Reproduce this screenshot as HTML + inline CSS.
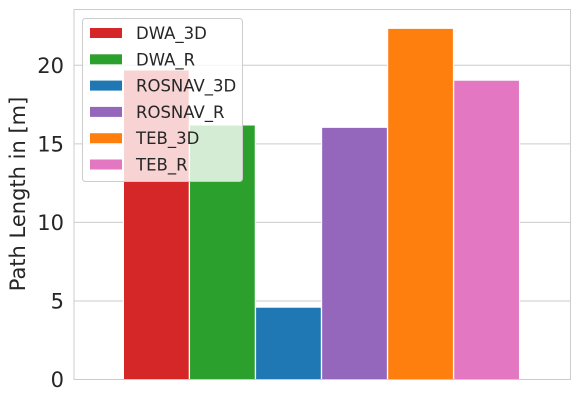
<!DOCTYPE html>
<html><head><meta charset="utf-8"><style>
body{margin:0;background:#fff;}
svg{display:block;font-family:"DejaVu Sans","Liberation Sans",sans-serif;}
</style></head><body>
<svg id="chart" width="579" height="401">
<g id="grid"></g>
<g id="bars"></g>
<rect x="74" y="9.5" width="496.5" height="370" fill="none" stroke="#cccccc" stroke-width="1"/>
<g id="ticks"></g>
<text transform="translate(25,194) rotate(-90)" text-anchor="middle" font-size="21" fill="#262626">Path Length in [m]</text>
<g id="legend"></g>
</svg>
<script>
const categories = ["DWA_3D","DWA_R","ROSNAV_3D","ROSNAV_R","TEB_3D","TEB_R"];
const values = [19.7, 16.2, 4.6, 16.05, 22.35, 19.05];
const colors = ["#d62728","#2ca02c","#1f77b4","#9467bd","#ff7f0e","#e377c2"];
const yTicks = [0,5,10,15,20];
const NS="http://www.w3.org/2000/svg";
const y0=379.5, pxPerUnit=15.71;
function yScale(v){return y0-v*pxPerUnit;}
const barW=65.7, step=66.05, barStart=123.5;
function xScale(i){return barStart+i*step;}
function mk(tag,attrs,parent){const e=document.createElementNS(NS,tag);for(const k in attrs)e.setAttribute(k,attrs[k]);parent.appendChild(e);return e;}
const grid=document.getElementById('grid'), bars=document.getElementById('bars'), ticks=document.getElementById('ticks'), legend=document.getElementById('legend');
yTicks.forEach(t=>{
  const y=yScale(t);
  const l=mk('line',{x1:74,x2:570.5,y1:y,y2:y,stroke:'#cccccc','stroke-width':1},grid);
  
  
  const tx=mk('text',{x:64,y:y+7.5,'text-anchor':'end','font-size':21,fill:'#262626'},ticks);
  tx.textContent=t;
  
  
});
values.forEach((v,i)=>{
  const r=mk('rect',{x:xScale(i),y:yScale(v),width:barW,height:y0-yScale(v),fill:colors[i],stroke:'#ffffff','stroke-width':1},bars);
  
  
});
mk('rect',{x:82.5,y:18.5,width:160,height:163,rx:3,fill:'#ffffff','fill-opacity':0.8,stroke:'#cccccc','stroke-width':1},legend);
categories.forEach((c,i)=>{
  const y=33+i*26.3;
  const g=mk('g',{},legend);
  
  
  mk('rect',{x:90,y:y-5,width:32,height:10,fill:colors[i]},g);
  const t=mk('text',{x:136,y:y+6,'font-size':16.5,fill:'#262626'},g);
  t.textContent=c;
});
</script>
</body></html>
